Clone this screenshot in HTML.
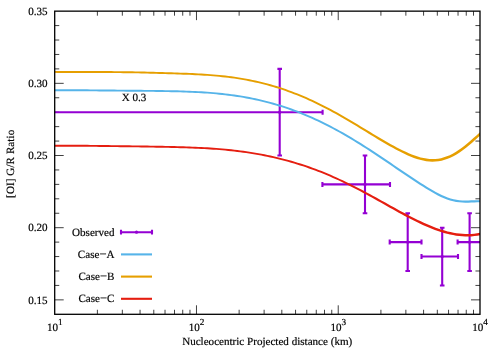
<!DOCTYPE html>
<html><head><meta charset="utf-8"><title>plot</title>
<style>html,body{margin:0;padding:0;background:#fff;width:500px;height:350px;overflow:hidden;font-family:"Liberation Serif",serif}</style>
</head><body>
<svg width="500" height="350" viewBox="0 0 500 350" style="position:absolute;left:0;top:0;will-change:transform">
<rect width="500" height="350" fill="#fff"/>
<path d="M54.70,299.86h9.00M480.00,299.86h-9.00M54.70,285.43h4.55M480.00,285.43h-4.55M54.70,270.99h4.55M480.00,270.99h-4.55M54.70,256.56h4.55M480.00,256.56h-4.55M54.70,242.12h4.55M480.00,242.12h-4.55M54.70,227.69h9.00M480.00,227.69h-9.00M54.70,213.25h4.55M480.00,213.25h-4.55M54.70,198.81h4.55M480.00,198.81h-4.55M54.70,184.38h4.55M480.00,184.38h-4.55M54.70,169.94h4.55M480.00,169.94h-4.55M54.70,155.51h9.00M480.00,155.51h-9.00M54.70,141.07h4.55M480.00,141.07h-4.55M54.70,126.64h4.55M480.00,126.64h-4.55M54.70,112.20h4.55M480.00,112.20h-4.55M54.70,97.76h4.55M480.00,97.76h-4.55M54.70,83.33h9.00M480.00,83.33h-9.00M54.70,68.89h4.55M480.00,68.89h-4.55M54.70,54.46h4.55M480.00,54.46h-4.55M54.70,40.02h4.55M480.00,40.02h-4.55M54.70,25.59h4.55M480.00,25.59h-4.55M97.38,314.30v-4.55M97.38,11.15v4.55M122.34,314.30v-4.55M122.34,11.15v4.55M140.05,314.30v-4.55M140.05,11.15v4.55M153.79,314.30v-4.55M153.79,11.15v4.55M165.02,314.30v-4.55M165.02,11.15v4.55M174.51,314.30v-4.55M174.51,11.15v4.55M182.73,314.30v-4.55M182.73,11.15v4.55M189.98,314.30v-4.55M189.98,11.15v4.55M196.47,314.30v-9.00M196.47,11.15v9.00M239.14,314.30v-4.55M239.14,11.15v4.55M264.11,314.30v-4.55M264.11,11.15v4.55M281.82,314.30v-4.55M281.82,11.15v4.55M295.56,314.30v-4.55M295.56,11.15v4.55M306.78,314.30v-4.55M306.78,11.15v4.55M316.27,314.30v-4.55M316.27,11.15v4.55M324.49,314.30v-4.55M324.49,11.15v4.55M331.75,314.30v-4.55M331.75,11.15v4.55M338.23,314.30v-9.00M338.23,11.15v9.00M380.91,314.30v-4.55M380.91,11.15v4.55M405.87,314.30v-4.55M405.87,11.15v4.55M423.59,314.30v-4.55M423.59,11.15v4.55M437.32,314.30v-4.55M437.32,11.15v4.55M448.55,314.30v-4.55M448.55,11.15v4.55M458.04,314.30v-4.55M458.04,11.15v4.55M466.26,314.30v-4.55M466.26,11.15v4.55M473.51,314.30v-4.55M473.51,11.15v4.55" stroke="#000" stroke-width="0.75" fill="none"/>
<clipPath id="c"><rect x="54.70" y="11.15" width="425.30" height="303.15"/></clipPath>
<g clip-path="url(#c)" fill="none" stroke-linejoin="round">
<path d="M40.00,112.20H322.60M40.00,109.70v5M322.60,109.70v5M279.70,68.89V155.51M277.40,68.89h4.6M277.40,155.51h4.6M322.40,184.38H390.00M322.40,181.88v5M390.00,181.88v5M365.00,155.51V213.25M362.70,155.51h4.6M362.70,213.25h4.6M389.70,242.12H421.50M389.70,239.62v5M421.50,239.62v5M407.70,213.25V270.99M405.40,213.25h4.6M405.40,270.99h4.6M421.50,256.56H458.00M421.50,254.06v5M458.00,254.06v5M442.20,227.69V285.43M439.90,227.69h4.6M439.90,285.43h4.6M457.60,242.12H495.00M457.60,239.62v5M495.00,239.62v5M469.60,213.25V270.99M467.30,213.25h4.6M467.30,270.99h4.6" stroke="#9400d3" stroke-width="2.1"/>
<circle cx="279.70" cy="112.20" r="1.6" fill="#9400d3" stroke="none"/>
<circle cx="365.00" cy="184.38" r="1.6" fill="#9400d3" stroke="none"/>
<circle cx="407.70" cy="242.12" r="1.6" fill="#9400d3" stroke="none"/>
<circle cx="442.20" cy="256.56" r="1.6" fill="#9400d3" stroke="none"/>
<circle cx="469.60" cy="242.12" r="1.6" fill="#9400d3" stroke="none"/>
<path d="M51.30,91.18 L54.30,91.18 L57.31,91.16 L60.30,91.15 L63.30,91.14 L66.30,91.14 L69.30,91.15 L72.30,91.16 L75.29,91.18 L78.29,91.19 L81.29,91.22 L84.29,91.24 L87.29,91.27 L90.29,91.29 L93.29,91.32 L96.29,91.35 L99.29,91.38 L102.29,91.41 L105.29,91.44 L108.29,91.47 L111.29,91.49 L114.29,91.52 L117.29,91.55 L120.29,91.57 L123.29,91.60 L126.29,91.63 L129.29,91.65 L132.29,91.68 L135.29,91.70 L138.29,91.72 L141.29,91.75 L144.29,91.78 L147.29,91.80 L150.29,91.83 L153.29,91.87 L156.29,91.90 L159.29,91.94 L162.29,91.98 L165.28,92.03 L168.28,92.08 L171.28,92.13 L174.28,92.20 L177.28,92.27 L180.27,92.35 L183.27,92.44 L186.27,92.54 L189.26,92.65 L192.26,92.77 L195.25,92.91 L198.25,93.06 L201.24,93.23 L204.24,93.42 L207.23,93.62 L210.23,93.84 L213.22,94.08 L216.21,94.35 L219.21,94.63 L222.20,94.94 L225.19,95.28 L228.18,95.64 L231.17,96.03 L234.17,96.44 L237.16,96.88 L240.15,97.35 L243.14,97.85 L246.13,98.38 L249.12,98.95 L252.11,99.54 L255.10,100.17 L258.09,100.83 L261.08,101.52 L264.07,102.25 L267.06,103.01 L270.05,103.80 L273.04,104.64 L276.03,105.50 L279.02,106.41 L282.01,107.35 L285.00,108.33 L287.99,109.34 L290.98,110.39 L293.97,111.48 L296.96,112.61 L299.95,113.77 L302.94,114.98 L305.93,116.22 L308.92,117.49 L311.91,118.81 L314.90,120.16 L317.89,121.55 L320.89,122.98 L323.88,124.45 L326.87,125.95 L329.86,127.49 L332.85,129.07 L335.85,130.68 L338.84,132.32 L341.83,134.01 L344.82,135.72 L347.81,137.47 L350.80,139.25 L353.80,141.07 L356.79,142.90 L359.78,144.77 L362.77,146.66 L365.77,148.58 L368.76,150.52 L371.75,152.48 L374.75,154.45 L377.74,156.45 L380.74,158.46 L383.73,160.48 L386.73,162.50 L389.73,164.54 L392.72,166.58 L395.72,168.63 L398.72,170.67 L401.72,172.71 L404.72,174.74 L407.72,176.76 L410.72,178.77 L413.72,180.76 L416.72,182.73 L419.72,184.68 L422.73,186.60 L425.73,188.49 L428.75,190.33 L431.76,192.12 L434.78,193.84 L437.81,195.46 L440.84,196.97 L443.88,198.33 L446.94,199.52 L449.99,200.53 L453.06,201.34 L456.12,201.94 L459.19,202.36 L462.25,202.59 L465.29,202.67 L468.33,202.63 L471.34,202.52 L474.34,202.38 L477.32,202.29 L480.00,202.29 L483.00,202.30 L483.00,200.15 L480.00,200.14 L477.28,200.14 L474.26,200.24 L471.26,200.37 L468.27,200.48 L465.31,200.52 L462.35,200.44 L459.41,200.22 L456.48,199.82 L453.54,199.24 L450.61,198.47 L447.66,197.50 L444.72,196.35 L441.76,195.02 L438.79,193.55 L435.82,191.96 L432.84,190.26 L429.85,188.49 L426.87,186.66 L423.87,184.79 L420.88,182.88 L417.88,180.95 L414.88,178.99 L411.88,177.01 L408.88,175.01 L405.88,173.00 L402.88,170.98 L399.88,168.95 L396.88,166.92 L393.88,164.88 L390.87,162.85 L387.87,160.82 L384.87,158.79 L381.86,156.78 L378.86,154.77 L375.85,152.78 L372.85,150.81 L369.84,148.85 L366.83,146.92 L363.83,145.00 L360.82,143.11 L357.81,141.24 L354.80,139.41 L351.80,137.60 L348.79,135.82 L345.78,134.07 L342.77,132.35 L339.76,130.66 L336.75,129.01 L333.75,127.39 L330.74,125.81 L327.73,124.26 L324.72,122.75 L321.71,121.27 L318.71,119.83 L315.70,118.44 L312.69,117.07 L309.68,115.75 L306.67,114.46 L303.66,113.22 L300.65,112.01 L297.64,110.83 L294.63,109.70 L291.62,108.60 L288.61,107.54 L285.60,106.52 L282.59,105.54 L279.58,104.59 L276.57,103.68 L273.56,102.81 L270.55,101.97 L267.54,101.17 L264.53,100.40 L261.52,99.67 L258.51,98.97 L255.50,98.31 L252.49,97.68 L249.48,97.08 L246.47,96.51 L243.46,95.98 L240.45,95.48 L237.44,95.00 L234.43,94.56 L231.43,94.14 L228.42,93.75 L225.41,93.39 L222.40,93.05 L219.39,92.74 L216.39,92.45 L213.38,92.19 L210.37,91.95 L207.37,91.72 L204.36,91.52 L201.36,91.33 L198.35,91.17 L195.35,91.01 L192.34,90.88 L189.34,90.75 L186.33,90.64 L183.33,90.54 L180.33,90.45 L177.32,90.37 L174.32,90.30 L171.32,90.23 L168.32,90.18 L165.32,90.13 L162.31,90.08 L159.31,90.04 L156.31,90.00 L153.31,89.97 L150.31,89.93 L147.31,89.90 L144.31,89.88 L141.31,89.85 L138.31,89.83 L135.31,89.80 L132.31,89.78 L129.31,89.75 L126.31,89.73 L123.31,89.70 L120.31,89.68 L117.31,89.65 L114.31,89.62 L111.31,89.59 L108.31,89.57 L105.31,89.54 L102.31,89.51 L99.31,89.48 L96.31,89.45 L93.31,89.42 L90.31,89.39 L87.31,89.37 L84.31,89.34 L81.31,89.32 L78.31,89.29 L75.31,89.28 L72.30,89.26 L69.30,89.25 L66.30,89.24 L63.30,89.24 L60.30,89.25 L57.29,89.26 L54.30,89.28 L51.30,89.28Z" fill="#56b4e9" stroke="none"/>
<path d="M51.30,72.84 L54.29,72.84 L57.29,72.88 L60.29,72.91 L63.29,72.93 L66.30,72.94 L69.30,72.96 L72.30,72.96 L75.30,72.96 L78.30,72.96 L81.30,72.96 L84.30,72.96 L87.30,72.96 L90.30,72.96 L93.30,72.96 L96.30,72.96 L99.30,72.97 L102.30,72.97 L105.30,72.98 L108.30,73.00 L111.29,73.01 L114.29,73.04 L117.29,73.06 L120.29,73.09 L123.29,73.13 L126.29,73.17 L129.29,73.21 L132.28,73.26 L135.28,73.31 L138.28,73.37 L141.28,73.43 L144.28,73.50 L147.28,73.57 L150.28,73.64 L153.28,73.72 L156.27,73.80 L159.27,73.88 L162.27,73.96 L165.27,74.05 L168.27,74.14 L171.27,74.23 L174.27,74.32 L177.27,74.42 L180.27,74.52 L183.26,74.63 L186.26,74.75 L189.26,74.87 L192.26,75.00 L195.25,75.15 L198.25,75.30 L201.24,75.46 L204.24,75.65 L207.23,75.84 L210.23,76.06 L213.22,76.30 L216.22,76.55 L219.21,76.83 L222.20,77.14 L225.19,77.46 L228.18,77.82 L231.17,78.20 L234.17,78.61 L237.16,79.06 L240.15,79.53 L243.14,80.04 L246.13,80.57 L249.12,81.14 L252.11,81.75 L255.10,82.39 L258.08,83.07 L261.07,83.78 L264.06,84.53 L267.05,85.32 L270.04,86.15 L273.03,87.01 L276.02,87.92 L279.01,88.86 L282.00,89.84 L284.99,90.86 L287.98,91.92 L290.97,93.02 L293.96,94.16 L296.95,95.33 L299.94,96.55 L302.93,97.80 L305.92,99.10 L308.91,100.43 L311.90,101.80 L314.89,103.20 L317.88,104.65 L320.87,106.13 L323.87,107.64 L326.86,109.19 L329.85,110.77 L332.85,112.39 L335.84,114.04 L338.83,115.71 L341.82,117.42 L344.81,119.16 L347.80,120.92 L350.79,122.71 L353.78,124.50 L356.77,126.32 L359.76,128.14 L362.76,129.98 L365.75,131.82 L368.74,133.66 L371.74,135.49 L374.73,137.32 L377.73,139.14 L380.73,140.94 L383.73,142.71 L386.73,144.47 L389.73,146.19 L392.74,147.87 L395.75,149.51 L398.76,151.10 L401.77,152.62 L404.79,154.08 L407.81,155.46 L410.84,156.74 L413.87,157.91 L416.92,158.96 L419.97,159.86 L423.04,160.60 L426.11,161.16 L429.20,161.50 L432.29,161.64 L435.39,161.55 L438.48,161.23 L441.58,160.66 L444.68,159.85 L447.76,158.80 L450.84,157.50 L453.91,155.97 L456.98,154.22 L460.03,152.25 L463.07,150.09 L466.11,147.76 L469.13,145.29 L472.15,142.70 L475.17,140.03 L478.17,137.33 L480.84,134.92 L483.82,132.50 L482.18,130.48 L479.16,132.94 L476.43,135.39 L473.43,138.09 L470.45,140.74 L467.47,143.29 L464.49,145.72 L461.53,148.00 L458.57,150.10 L455.62,152.00 L452.69,153.68 L449.76,155.14 L446.84,156.37 L443.92,157.37 L441.02,158.13 L438.12,158.65 L435.21,158.96 L432.31,159.04 L429.40,158.91 L426.49,158.58 L423.56,158.07 L420.63,157.38 L417.68,156.54 L414.73,155.55 L411.76,154.43 L408.79,153.20 L405.81,151.87 L402.83,150.46 L399.84,148.97 L396.85,147.42 L393.86,145.82 L390.87,144.17 L387.87,142.48 L384.87,140.76 L381.87,139.01 L378.87,137.23 L375.87,135.44 L372.86,133.64 L369.86,131.83 L366.85,130.01 L363.84,128.19 L360.84,126.38 L357.83,124.57 L354.82,122.77 L351.81,120.99 L348.80,119.23 L345.79,117.48 L342.78,115.76 L339.77,114.06 L336.76,112.37 L333.75,110.72 L330.75,109.10 L327.74,107.51 L324.73,105.95 L321.73,104.43 L318.72,102.94 L315.71,101.49 L312.70,100.07 L309.69,98.70 L306.68,97.36 L303.67,96.06 L300.66,94.79 L297.65,93.57 L294.64,92.38 L291.63,91.24 L288.62,90.13 L285.61,89.06 L282.60,88.04 L279.59,87.05 L276.58,86.10 L273.57,85.19 L270.56,84.32 L267.55,83.49 L264.54,82.69 L261.53,81.94 L258.52,81.22 L255.50,80.54 L252.49,79.89 L249.48,79.28 L246.47,78.70 L243.46,78.16 L240.45,77.65 L237.44,77.18 L234.43,76.73 L231.43,76.32 L228.42,75.93 L225.41,75.58 L222.40,75.25 L219.39,74.94 L216.38,74.66 L213.38,74.40 L210.37,74.17 L207.37,73.95 L204.36,73.75 L201.36,73.57 L198.35,73.40 L195.35,73.25 L192.34,73.11 L189.34,72.97 L186.34,72.85 L183.34,72.73 L180.33,72.63 L177.33,72.52 L174.33,72.42 L171.33,72.33 L168.33,72.24 L165.33,72.15 L162.33,72.06 L159.33,71.98 L156.33,71.90 L153.32,71.82 L150.32,71.74 L147.32,71.67 L144.32,71.60 L141.32,71.53 L138.32,71.47 L135.32,71.41 L132.32,71.36 L129.31,71.31 L126.31,71.27 L123.31,71.23 L120.31,71.19 L117.31,71.16 L114.31,71.14 L111.31,71.11 L108.30,71.10 L105.30,71.08 L102.30,71.07 L99.30,71.07 L96.30,71.06 L93.30,71.06 L90.30,71.06 L87.30,71.06 L84.30,71.06 L81.30,71.06 L78.30,71.06 L75.30,71.06 L72.30,71.06 L69.30,71.06 L66.30,71.04 L63.31,71.03 L60.31,71.01 L57.31,70.98 L54.31,70.94 L51.30,70.94Z" fill="#e69f00" stroke="none"/>
<path d="M51.30,146.71 L54.30,146.71 L57.31,146.68 L60.31,146.66 L63.30,146.64 L66.30,146.64 L69.30,146.64 L72.30,146.65 L75.30,146.66 L78.29,146.68 L81.29,146.70 L84.29,146.72 L87.29,146.75 L90.29,146.78 L93.29,146.81 L96.29,146.84 L99.29,146.88 L102.29,146.91 L105.29,146.95 L108.29,146.99 L111.29,147.03 L114.29,147.06 L117.29,147.10 L120.29,147.14 L123.29,147.18 L126.29,147.22 L129.29,147.26 L132.29,147.30 L135.29,147.33 L138.29,147.37 L141.29,147.41 L144.29,147.46 L147.29,147.50 L150.29,147.54 L153.29,147.59 L156.28,147.63 L159.28,147.68 L162.28,147.73 L165.28,147.79 L168.28,147.85 L171.28,147.91 L174.28,147.98 L177.28,148.05 L180.27,148.13 L183.27,148.22 L186.27,148.31 L189.27,148.42 L192.26,148.53 L195.26,148.65 L198.26,148.78 L201.25,148.93 L204.25,149.09 L207.24,149.26 L210.24,149.44 L213.23,149.64 L216.23,149.86 L219.22,150.09 L222.22,150.35 L225.21,150.62 L228.21,150.91 L231.20,151.22 L234.19,151.55 L237.19,151.90 L240.18,152.28 L243.17,152.67 L246.16,153.10 L249.16,153.54 L252.15,154.01 L255.14,154.51 L258.13,155.03 L261.12,155.58 L264.12,156.16 L267.11,156.77 L270.10,157.40 L273.09,158.06 L276.08,158.75 L279.07,159.47 L282.06,160.22 L285.06,161.01 L288.05,161.82 L291.04,162.66 L294.03,163.54 L297.02,164.44 L300.01,165.38 L303.00,166.35 L305.99,167.36 L308.98,168.39 L311.98,169.46 L314.97,170.57 L317.96,171.70 L320.95,172.87 L323.94,174.08 L326.93,175.32 L329.92,176.59 L332.92,177.89 L335.91,179.23 L338.90,180.60 L341.89,182.01 L344.88,183.45 L347.87,184.92 L350.86,186.42 L353.85,187.94 L356.84,189.49 L359.83,191.07 L362.82,192.66 L365.81,194.28 L368.80,195.91 L371.79,197.56 L374.78,199.22 L377.78,200.89 L380.77,202.57 L383.77,204.26 L386.76,205.94 L389.76,207.63 L392.76,209.30 L395.75,210.97 L398.75,212.63 L401.75,214.27 L404.75,215.89 L407.76,217.49 L410.76,219.05 L413.77,220.59 L416.78,222.08 L419.78,223.54 L422.80,224.94 L425.81,226.29 L428.83,227.57 L431.85,228.80 L434.88,229.95 L437.90,231.03 L440.93,232.03 L443.96,232.94 L447.00,233.77 L450.03,234.49 L453.07,235.12 L456.12,235.63 L459.16,236.04 L462.21,236.32 L465.26,236.47 L468.32,236.50 L471.37,236.38 L474.43,236.12 L477.49,235.71 L480.21,235.22 L483.20,234.72 L482.80,232.31 L479.79,232.80 L477.11,233.29 L474.17,233.69 L471.23,233.94 L468.28,234.05 L465.34,234.03 L462.39,233.87 L459.44,233.60 L456.48,233.21 L453.53,232.71 L450.57,232.10 L447.60,231.39 L444.64,230.59 L441.67,229.69 L438.70,228.71 L435.72,227.65 L432.75,226.52 L429.77,225.31 L426.79,224.04 L423.80,222.72 L420.82,221.35 L417.82,219.92 L414.83,218.46 L411.84,216.95 L408.84,215.41 L405.85,213.84 L402.85,212.24 L399.85,210.63 L396.85,208.99 L393.84,207.34 L390.84,205.68 L387.84,204.02 L384.83,202.35 L381.83,200.68 L378.82,199.02 L375.82,197.36 L372.81,195.71 L369.80,194.08 L366.79,192.46 L363.78,190.85 L360.77,189.27 L357.76,187.71 L354.75,186.17 L351.74,184.65 L348.73,183.17 L345.72,181.71 L342.71,180.28 L339.70,178.88 L336.69,177.50 L333.68,176.15 L330.68,174.84 L327.67,173.56 L324.66,172.32 L321.65,171.11 L318.64,169.93 L315.63,168.79 L312.62,167.68 L309.62,166.60 L306.61,165.56 L303.60,164.55 L300.59,163.57 L297.58,162.63 L294.57,161.71 L291.56,160.83 L288.55,159.99 L285.54,159.17 L282.54,158.38 L279.53,157.63 L276.52,156.90 L273.51,156.21 L270.50,155.54 L267.49,154.91 L264.48,154.30 L261.48,153.72 L258.47,153.16 L255.46,152.64 L252.45,152.14 L249.44,151.66 L246.44,151.22 L243.43,150.79 L240.42,150.39 L237.41,150.01 L234.41,149.66 L231.40,149.33 L228.39,149.02 L225.39,148.72 L222.38,148.45 L219.38,148.20 L216.37,147.97 L213.37,147.75 L210.36,147.55 L207.36,147.36 L204.35,147.19 L201.35,147.03 L198.34,146.89 L195.34,146.75 L192.34,146.63 L189.33,146.52 L186.33,146.42 L183.33,146.32 L180.33,146.23 L177.32,146.15 L174.32,146.08 L171.32,146.01 L168.32,145.95 L165.32,145.89 L162.32,145.83 L159.32,145.78 L156.32,145.73 L153.31,145.69 L150.31,145.64 L147.31,145.60 L144.31,145.56 L141.31,145.51 L138.31,145.47 L135.31,145.44 L132.31,145.40 L129.31,145.36 L126.31,145.32 L123.31,145.28 L120.31,145.24 L117.31,145.20 L114.31,145.16 L111.31,145.13 L108.31,145.09 L105.31,145.05 L102.31,145.01 L99.31,144.98 L96.31,144.94 L93.31,144.91 L90.31,144.88 L87.31,144.85 L84.31,144.82 L81.31,144.80 L78.31,144.78 L75.30,144.76 L72.30,144.75 L69.30,144.74 L66.30,144.74 L63.30,144.74 L60.29,144.76 L57.29,144.78 L54.30,144.81 L51.30,144.81Z" fill="#e51e10" stroke="none"/>
</g>
<path d="M121,232.20H152M121,229.80v4.8M152,229.80v4.8" stroke="#9400d3" stroke-width="2.1" fill="none"/>
<circle cx="136.5" cy="232.20" r="1.6" fill="#9400d3"/>
<path d="M121,254.40H152" stroke="#56b4e9" stroke-width="2.1" fill="none"/>
<path d="M121,276.60H152" stroke="#e69f00" stroke-width="2.1" fill="none"/>
<path d="M121,298.80H152" stroke="#e51e10" stroke-width="2.1" fill="none"/>
<rect x="54.70" y="11.15" width="425.30" height="303.15" fill="none" stroke="#000" stroke-width="1.3"/>
<text x="47.6" y="303.66" text-anchor="end" font-family="Liberation Serif, serif" font-size="11.08" fill="#000" stroke="#000" stroke-width="0.18" text-rendering="geometricPrecision">0.15</text>
<text x="47.6" y="231.49" text-anchor="end" font-family="Liberation Serif, serif" font-size="11.08" fill="#000" stroke="#000" stroke-width="0.18" text-rendering="geometricPrecision">0.20</text>
<text x="47.6" y="159.31" text-anchor="end" font-family="Liberation Serif, serif" font-size="11.08" fill="#000" stroke="#000" stroke-width="0.18" text-rendering="geometricPrecision">0.25</text>
<text x="47.6" y="87.13" text-anchor="end" font-family="Liberation Serif, serif" font-size="11.08" fill="#000" stroke="#000" stroke-width="0.18" text-rendering="geometricPrecision">0.30</text>
<text x="47.6" y="14.95" text-anchor="end" font-family="Liberation Serif, serif" font-size="11.08" fill="#000" stroke="#000" stroke-width="0.18" text-rendering="geometricPrecision">0.35</text>
<text x="46.90" y="330.5" font-family="Liberation Serif, serif" font-size="11.08" fill="#000" stroke="#000" stroke-width="0.18" text-rendering="geometricPrecision">10<tspan dy="-5.4" font-size="9.2">1</tspan></text>
<text x="188.67" y="330.5" font-family="Liberation Serif, serif" font-size="11.08" fill="#000" stroke="#000" stroke-width="0.18" text-rendering="geometricPrecision">10<tspan dy="-5.4" font-size="9.2">2</tspan></text>
<text x="330.43" y="330.5" font-family="Liberation Serif, serif" font-size="11.08" fill="#000" stroke="#000" stroke-width="0.18" text-rendering="geometricPrecision">10<tspan dy="-5.4" font-size="9.2">3</tspan></text>
<text x="472.20" y="330.5" font-family="Liberation Serif, serif" font-size="11.08" fill="#000" stroke="#000" stroke-width="0.18" text-rendering="geometricPrecision">10<tspan dy="-5.4" font-size="9.2">4</tspan></text>
<text x="267.2" y="345.45" text-anchor="middle" font-family="Liberation Serif, serif" font-size="11.08" fill="#000" stroke="#000" stroke-width="0.18" text-rendering="geometricPrecision">Nucleocentric Projected distance (km)</text>
<text transform="translate(13.7,163.8) rotate(-90)" text-anchor="middle" letter-spacing="0.08" font-family="Liberation Serif, serif" font-size="11.08" fill="#000" stroke="#000" stroke-width="0.18" text-rendering="geometricPrecision">[OI] G/R Ratio</text>
<text x="121.7" y="101.35" font-family="Liberation Serif, serif" font-size="11.08" fill="#000" stroke="#000" stroke-width="0.18" text-rendering="geometricPrecision">X 0.3</text>
<text x="114.5" y="235.70" text-anchor="end" font-family="Liberation Serif, serif" font-size="11.08" fill="#000" stroke="#000" stroke-width="0.18" text-rendering="geometricPrecision">Observed</text>
<text x="114.5" y="257.90" text-anchor="end" font-family="Liberation Serif, serif" font-size="11.08" fill="#000" stroke="#000" stroke-width="0.18" text-rendering="geometricPrecision">Case<tspan font-size="12.6">−</tspan>A</text>
<text x="114.5" y="280.10" text-anchor="end" font-family="Liberation Serif, serif" font-size="11.08" fill="#000" stroke="#000" stroke-width="0.18" text-rendering="geometricPrecision">Case<tspan font-size="12.6">−</tspan>B</text>
<text x="114.5" y="302.30" text-anchor="end" font-family="Liberation Serif, serif" font-size="11.08" fill="#000" stroke="#000" stroke-width="0.18" text-rendering="geometricPrecision">Case<tspan font-size="12.6">−</tspan>C</text>
</svg>
</body></html>
